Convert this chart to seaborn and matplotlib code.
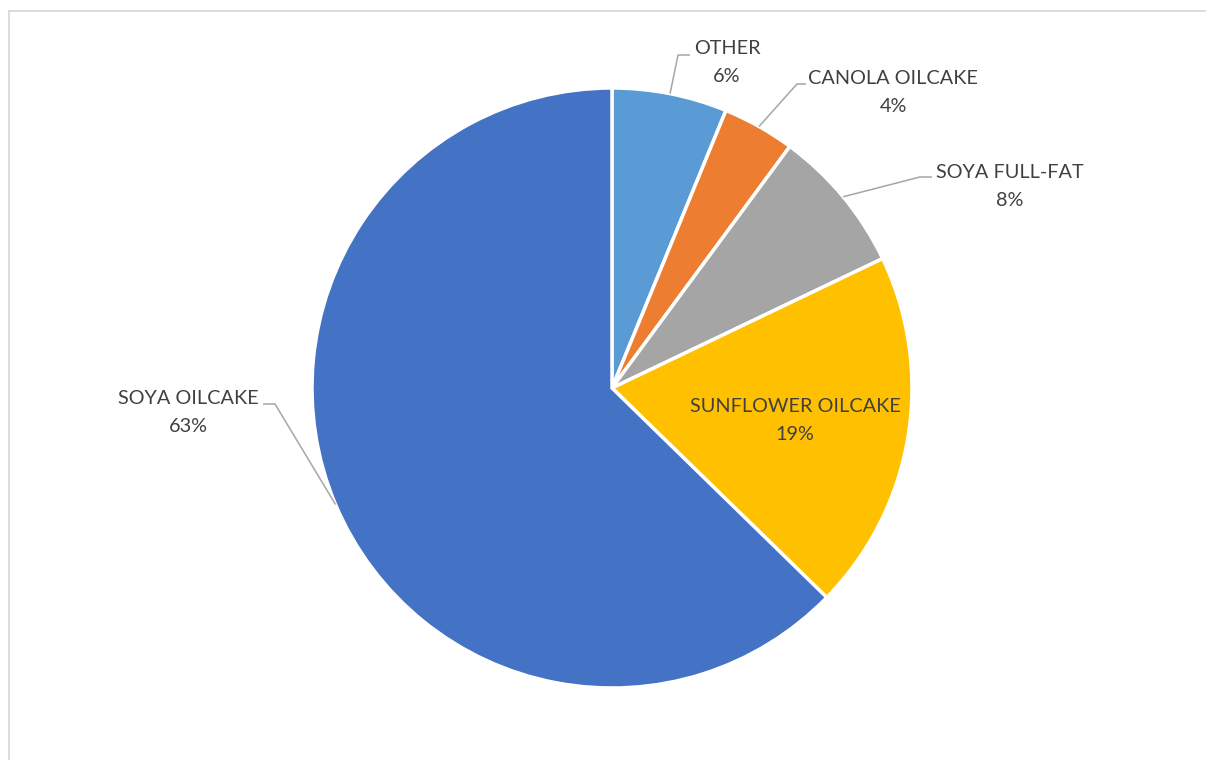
import numpy as np
import matplotlib
matplotlib.use("Agg")
import matplotlib.pyplot as plt
import seaborn as sns

# Share of protein meals used in feed (percent)
categories = ["OTHER", "CANOLA OILCAKE", "SOYA FULL-FAT", "SUNFLOWER OILCAKE", "SOYA OILCAKE"]
shares = [6.2, 3.9, 7.8, 19.4, 62.7]
colors = ["#5B9BD5", "#ED7D31", "#A5A5A5", "#FFC000", "#4472C4"]

sns.set_theme(style="white")
plt.rcParams["font.family"] = ["Lato", "DejaVu Sans"]

W, H = 1206, 760
fig = plt.figure(figsize=(W / 100, H / 100), dpi=100)
ax = fig.add_axes([0, 0, 1, 1])

cx, cy, R = 612, H - 388, 300
wedges, _ = ax.pie(
    shares, colors=colors, startangle=90, counterclock=False,
    center=(cx, cy), radius=R, frame=True,
    wedgeprops=dict(edgecolor="white", linewidth=2.5),
)
ax.set_xlim(0, W)
ax.set_ylim(0, H)
ax.axis("off")

text_color = "#404040"
line_color = "#A6A6A6"
fs = 14.3
gap = 28  # pixels between the name line and the percent line

# label layout: (name line center, elbow point, shelf end) in pixels from top-left
layout = {
    "OTHER": ((727, 49), (678, 55), (690, 55)),
    "CANOLA OILCAKE": ((893, 78), (797, 84), (806, 84)),
    "SOYA FULL-FAT": ((1010, 172), (920, 177), (932, 177)),
    "SOYA OILCAKE": ((188, 399), (275, 404), (263, 404)),
}


def put_label(tx, ty, name, val):
    ax.text(tx, H - ty, name, ha="center", va="center", fontsize=fs, color=text_color)
    ax.text(tx, H - ty - gap, f"{round(val):d}%", ha="center", va="center",
            fontsize=fs, color=text_color)


for w, name, val in zip(wedges, categories, shares):
    mid = np.deg2rad((w.theta1 + w.theta2) / 2)
    ex, ey = cx + R * np.cos(mid), cy + R * np.sin(mid)
    if name in layout:
        (tx, ty), (bx, by), (sx, sy) = layout[name]
        ax.plot([ex, bx, sx], [ey, H - by, H - sy], color=line_color, lw=1.1,
                solid_capstyle="butt", zorder=3)
        put_label(tx, ty, name, val)
    else:
        put_label(795, 406, name, val)

# chart area border
fig.add_artist(plt.Line2D([8.5 / W, 8.5 / W], [0, 1 - 11 / H], transform=fig.transFigure,
                          color="#D9D9D9", lw=1.3))
fig.add_artist(plt.Line2D([8.5 / W, 1], [1 - 11 / H, 1 - 11 / H], transform=fig.transFigure,
                          color="#D9D9D9", lw=1.3))

fig.savefig("out.png", dpi=100, facecolor="white")
